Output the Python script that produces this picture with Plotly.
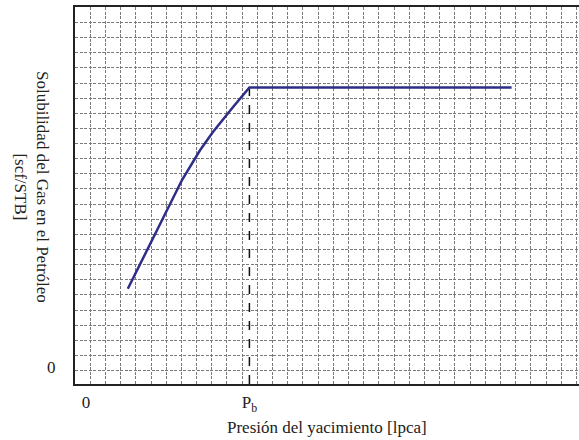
import plotly.graph_objects as go

# Data (schematic): pressure [lpca] vs gas solubility Rs [scf/STB]
pressure = [550, 775, 1010, 1265, 1500, 1670, 1935, 2150, 5600]
rs = [515, 740, 980, 1235, 1430, 1550, 1715, 1845, 1845]
pb = 2150
rs_b = 1845

x_tick_vals = [0, pb]
x_tick_text = ["0", "P<sub>b</sub>"]
y_tick_vals = [0]
y_tick_text = ["0"]

x_title = "Presión del yacimiento [lpca]"
y_title = "Solubilidad del Gas en el Petróleo<br>[scf/STB]"

x_range = [-145, 6487]
y_range = [-114, 2376]

font_family = "Liberation Serif, Times New Roman, serif"
grid_color = "#7a7a7a"

fig = go.Figure()

fig.add_trace(go.Scatter(
    x=[pb, pb], y=[y_range[0], rs_b], mode="lines",
    line=dict(color="#111111", width=1.5, dash="dash"),
    showlegend=False, hoverinfo="skip"))

fig.add_trace(go.Scatter(
    x=pressure, y=rs, mode="lines",
    line=dict(color="#2e2e86", width=2.5),
    showlegend=False))

fig.update_layout(
    width=579, height=440,
    margin=dict(l=75, r=0, t=7, b=56, autoexpand=False),
    paper_bgcolor="white", plot_bgcolor="white",
    font=dict(family=font_family, size=17, color="#222222"),
    xaxis=dict(
        range=x_range, tickmode="array", tickvals=x_tick_vals, ticktext=x_tick_text,
        showgrid=False, zeroline=False, showline=True, linecolor="#222222", linewidth=2,
        mirror=True, ticks="", ticklabelstandoff=2, automargin=False,
        minor=dict(tickmode="linear", tick0=55, dtick=200, showgrid=True,
                   gridcolor=grid_color, griddash="3px,1.5px", gridwidth=1, ticks=""),
    ),
    yaxis=dict(
        range=y_range, tickmode="array", tickvals=y_tick_vals, ticktext=y_tick_text,
        showgrid=False, zeroline=False, showline=True, linecolor="#222222", linewidth=2,
        mirror=False, ticks="", ticklabelstandoff=14, automargin=False,
        minor=dict(tickmode="linear", tick0=-26, dtick=100, showgrid=True,
                   gridcolor=grid_color, griddash="3px,1.5px", gridwidth=1, ticks=""),
    ),
    annotations=[
        dict(
            text=y_title, textangle=90, showarrow=False,
            xref="paper", yref="paper", x=0, y=(384 - 187) / 377,
            xanchor="center", yanchor="middle", xshift=-43,
            font=dict(family=font_family, size=17, color="#222222"),
        ),
        dict(
            text=x_title, showarrow=False,
            xref="paper", yref="paper", x=0.5, y=0,
            xanchor="center", yanchor="middle", yshift=-43,
            font=dict(family=font_family, size=17, color="#222222"),
        ),
    ],
)

fig.write_html("out.html", config={"displayModeBar": False},
               post_script="document.body.style.margin='0';")
